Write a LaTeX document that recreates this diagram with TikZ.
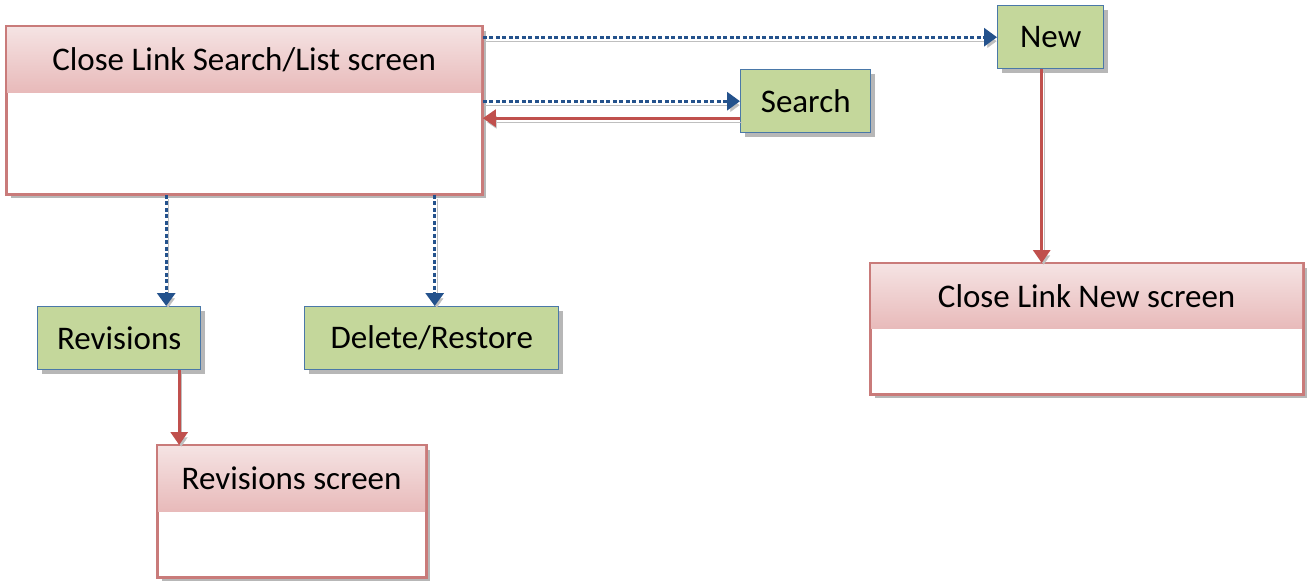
\documentclass[tikz,border=0pt]{standalone}
\usepackage{fontspec}
\setmainfont{Carlito}
\usetikzlibrary{arrows.meta,shadows,calc}
\definecolor{scrb}{HTML}{C97B7A}
\definecolor{hdtop}{HTML}{F5E3E3}
\definecolor{hdbot}{HTML}{E8BABA}
\definecolor{actfill}{HTML}{C4D79B}
\definecolor{actb}{HTML}{4A78A8}
\definecolor{lnblue}{HTML}{24528C}
\definecolor{lnred}{HTML}{C0504D}
\begin{document}
\begin{tikzpicture}[x=1pt,y=1pt,
  shd/.style={drop shadow={shadow xshift=4pt,shadow yshift=-4pt,opacity=0.4,fill=black!70}},
  screen/.style={draw=scrb,line width=1.8pt,fill=white,anchor=north west,inner sep=0pt,shd},
  act/.style={draw=actb,line width=1.4pt,fill=actfill,anchor=north west,inner sep=0pt,font=\fontsize{33}{40}\selectfont,shd},
  hdr/.style={top color=hdtop,bottom color=hdbot,anchor=north west,inner sep=0pt,font=\fontsize{33}{40}\selectfont},
  bord/.style={draw=scrb,line width=1.8pt},
  cshadow/.style={preaction={draw=black!25,transform canvas={shift={(2pt,-4pt)}}}},
  dotc/.style={draw=lnblue,line width=3.2pt,dash pattern=on 4pt off 2.5pt,-{Triangle[width=18pt,length=13pt]},cshadow},
  redc/.style={draw=lnred,line width=3pt,-{Triangle[width=17pt,length=13pt]},cshadow}
]
\useasboundingbox (0,0) rectangle (1314,-581);

% screens
\node[screen,minimum width=475pt,minimum height=167pt] (main) at (6,-26) {};
\node[hdr,minimum width=474pt,minimum height=65pt] (mainhd) at ([shift={(0.9,-0.9)}]main.north west) {Close Link Search/List screen};
\draw[bord] (main.north west) rectangle (main.south east);

\node[screen,minimum width=268pt,minimum height=131pt] (revscr) at (157,-445) {};
\node[hdr,minimum width=267pt,minimum height=65pt] (revhd) at ([shift={(0.9,-0.9)}]revscr.north west) {Revisions screen};
\draw[bord] (revscr.north west) rectangle (revscr.south east);

\node[screen,minimum width=432pt,minimum height=130pt] (newscr) at (870,-263) {};
\node[hdr,minimum width=431pt,minimum height=64pt] (newhd) at ([shift={(0.9,-0.9)}]newscr.north west) {Close Link New screen};
\draw[bord] (newscr.north west) rectangle (newscr.south east);

% action boxes
\node[act,minimum width=130pt,minimum height=63pt] (search) at (740,-69) {Search};
\node[act,minimum width=106pt,minimum height=63pt] (new) at (997,-5) {New};
\node[act,minimum width=163pt,minimum height=63pt] (rev) at (37,-306) {Revisions};
\node[act,minimum width=254pt,minimum height=63pt] (del) at (304,-306) {Delete/Restore};

% connectors
\draw[dotc] (main.east |- new.west) -- (new.west);
\draw[dotc] (main.east |- search.west) -- (search.west);
\draw[redc] ([yshift=-17pt]search.west) -- ([yshift=-17pt]main.east |- search.west);
\coordinate (revin) at ([xshift=47pt]rev.north);
\draw[dotc] (revin |- main.south) -- (revin);
\coordinate (delin) at ([xshift=3pt]del.north);
\draw[dotc] (delin |- main.south) -- (delin);
\coordinate (newout) at ([xshift=-9pt]new.south);
\draw[redc] (newout) -- (newout |- newscr.north);
\coordinate (revout) at ([xshift=60pt]rev.south);
\draw[redc] (revout) -- (revout |- revscr.north);
\end{tikzpicture}
\end{document}
